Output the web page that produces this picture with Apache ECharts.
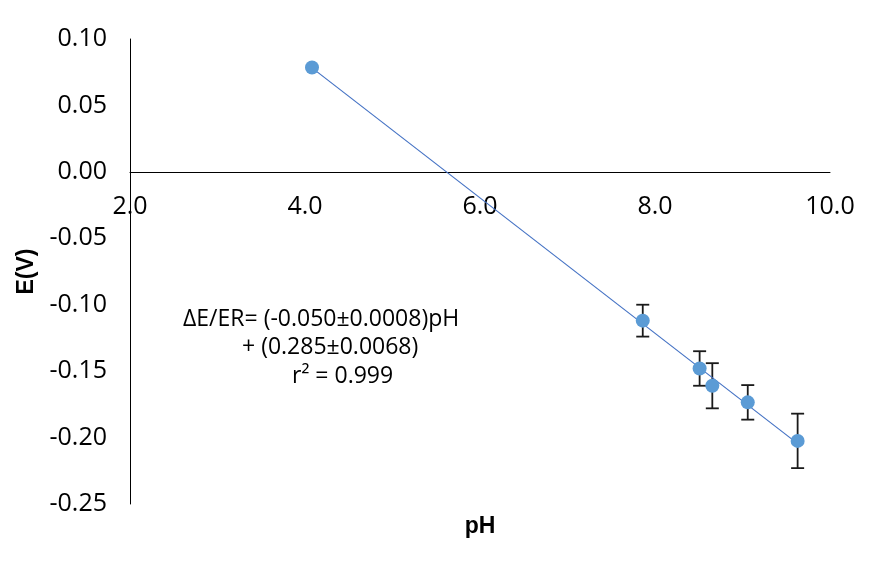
<!DOCTYPE html>
<html>
<head>
<meta charset="utf-8">
<script src="https://cdn.jsdelivr.net/npm/echarts@6/dist/echarts.min.js"></script>
<style>
  html, body { margin: 0; padding: 0; background: #fff; }
  #chart { width: 883px; height: 569px; }
</style>
</head>
<body>
<div id="chart"></div>
<script>
// Electrode potential measured against pH
const phValues = [4.08, 7.86, 8.51, 8.655, 9.06, 9.63];
const potentials = [0.0785, -0.112, -0.148, -0.161, -0.1735, -0.2025];
const errors = [null, 0.012, 0.013, 0.017, 0.013, 0.0205];
const xTicks = [2, 4, 6, 8, 10];
const yTicks = [-0.25, -0.2, -0.15, -0.1, -0.05, 0, 0.05, 0.1];
const equationLines = ['ΔE/ER= (-0.050±0.0008)pH', '+ (0.285±0.0068)', 'r² = 0.999'];

// Least-squares trend line through the measured points
const n = phValues.length;
const mx = phValues.reduce((a, b) => a + b, 0) / n;
const my = potentials.reduce((a, b) => a + b, 0) / n;
let sxy = 0, sxx = 0;
for (let i = 0; i < n; i++) {
  sxy += (phValues[i] - mx) * (potentials[i] - my);
  sxx += (phValues[i] - mx) * (phValues[i] - mx);
}
const slope = sxy / sxx;
const intercept = my - slope * mx;
const xFirst = Math.min(...phValues), xLast = Math.max(...phValues);
const trend = [[xFirst, intercept + slope * xFirst], [xLast, intercept + slope * xLast]];

const points = phValues.map((x, i) => [x, potentials[i]]);
const errorData = phValues.map((x, i) => [x, potentials[i], errors[i]]).filter(d => d[2] != null);

const GRID = { left: 130, right: 53, top: 39, bottom: 65 };
const plotH = 569 - GRID.top - GRID.bottom;
const yMin = yTicks[0], yMax = yTicks[yTicks.length - 1];
// distance from the bottom of the plot up to the E = 0 line
const zeroLift = plotH * (0 - yMin) / (yMax - yMin);

const tickFont = { color: '#000', fontFamily: 'Open Sans', fontSize: 25 };
const titleFont = { color: '#000', fontFamily: 'Liberation Sans', fontWeight: 'bold', fontSize: 23 };

const chart = echarts.init(document.getElementById('chart'));
chart.setOption({
  animation: false,
  backgroundColor: '#ffffff',
  grid: Object.assign({ outerBoundsMode: 'none', containLabel: false }, GRID),
  xAxis: [
    {
      // pH axis drawn across the E = 0 line, labels hanging under it
      type: 'value',
      min: xTicks[0], max: xTicks[xTicks.length - 1], interval: 2,
      position: 'bottom',
      offset: -zeroLift,
      axisLine: { onZero: false, lineStyle: { color: '#000', width: 1 } },
      axisTick: { show: false },
      splitLine: { show: false },
      axisLabel: Object.assign({ margin: 23, formatter: v => v.toFixed(1) }, tickFont)
    },
    {
      // carries only the axis title at the foot of the plot
      type: 'value',
      min: xTicks[0], max: xTicks[xTicks.length - 1],
      position: 'bottom',
      axisLine: { show: false, onZero: false },
      axisTick: { show: false },
      axisLabel: { show: false },
      splitLine: { show: false },
      name: 'pH',
      nameLocation: 'middle',
      nameGap: 11,
      nameTextStyle: titleFont
    }
  ],
  yAxis: {
    type: 'value',
    min: yMin, max: yMax, interval: 0.05,
    axisLine: { show: true, onZero: false, lineStyle: { color: '#000', width: 1 } },
    axisTick: { show: false },
    splitLine: { show: false },
    axisLabel: Object.assign({ margin: 23, formatter: v => v.toFixed(2) }, tickFont),
    name: 'E(V)',
    nameLocation: 'middle',
    nameGap: 91,
    nameRotate: 90,
    nameTextStyle: titleFont
  },
  series: [
    {
      type: 'line',
      data: trend,
      showSymbol: false,
      lineStyle: { color: '#4472C4', width: 1.2 },
      z: 3
    },
    {
      type: 'custom',
      data: errorData,
      z: 2,
      renderItem: function (params, api) {
        const x = api.value(0), y = api.value(1), e = api.value(2);
        const top = api.coord([x, y + e]);
        const bot = api.coord([x, y - e]);
        const half = 6.5;
        const style = { stroke: '#1a1a1a', lineWidth: 1.8 };
        return {
          type: 'group',
          children: [
            { type: 'line', shape: { x1: top[0], y1: top[1], x2: bot[0], y2: bot[1] }, style },
            { type: 'line', shape: { x1: top[0] - half, y1: top[1], x2: top[0] + half, y2: top[1] }, style },
            { type: 'line', shape: { x1: bot[0] - half, y1: bot[1], x2: bot[0] + half, y2: bot[1] }, style }
          ]
        };
      }
    },
    {
      type: 'scatter',
      data: points,
      symbol: 'circle',
      symbolSize: 14,
      itemStyle: { color: '#5B9BD5', opacity: 1 },
      z: 4
    }
  ],
  graphic: [
    { type: 'text', left: 183, top: 308, style: { text: equationLines[0], font: '23px "Open Sans"', fill: '#000' } },
    { type: 'text', left: 242, top: 336, style: { text: equationLines[1], font: '23px "Open Sans"', fill: '#000' } },
    { type: 'text', left: 292, top: 365, style: { text: equationLines[2], font: '23px "Open Sans"', fill: '#000' } }
  ]
});
</script>
</body>
</html>
